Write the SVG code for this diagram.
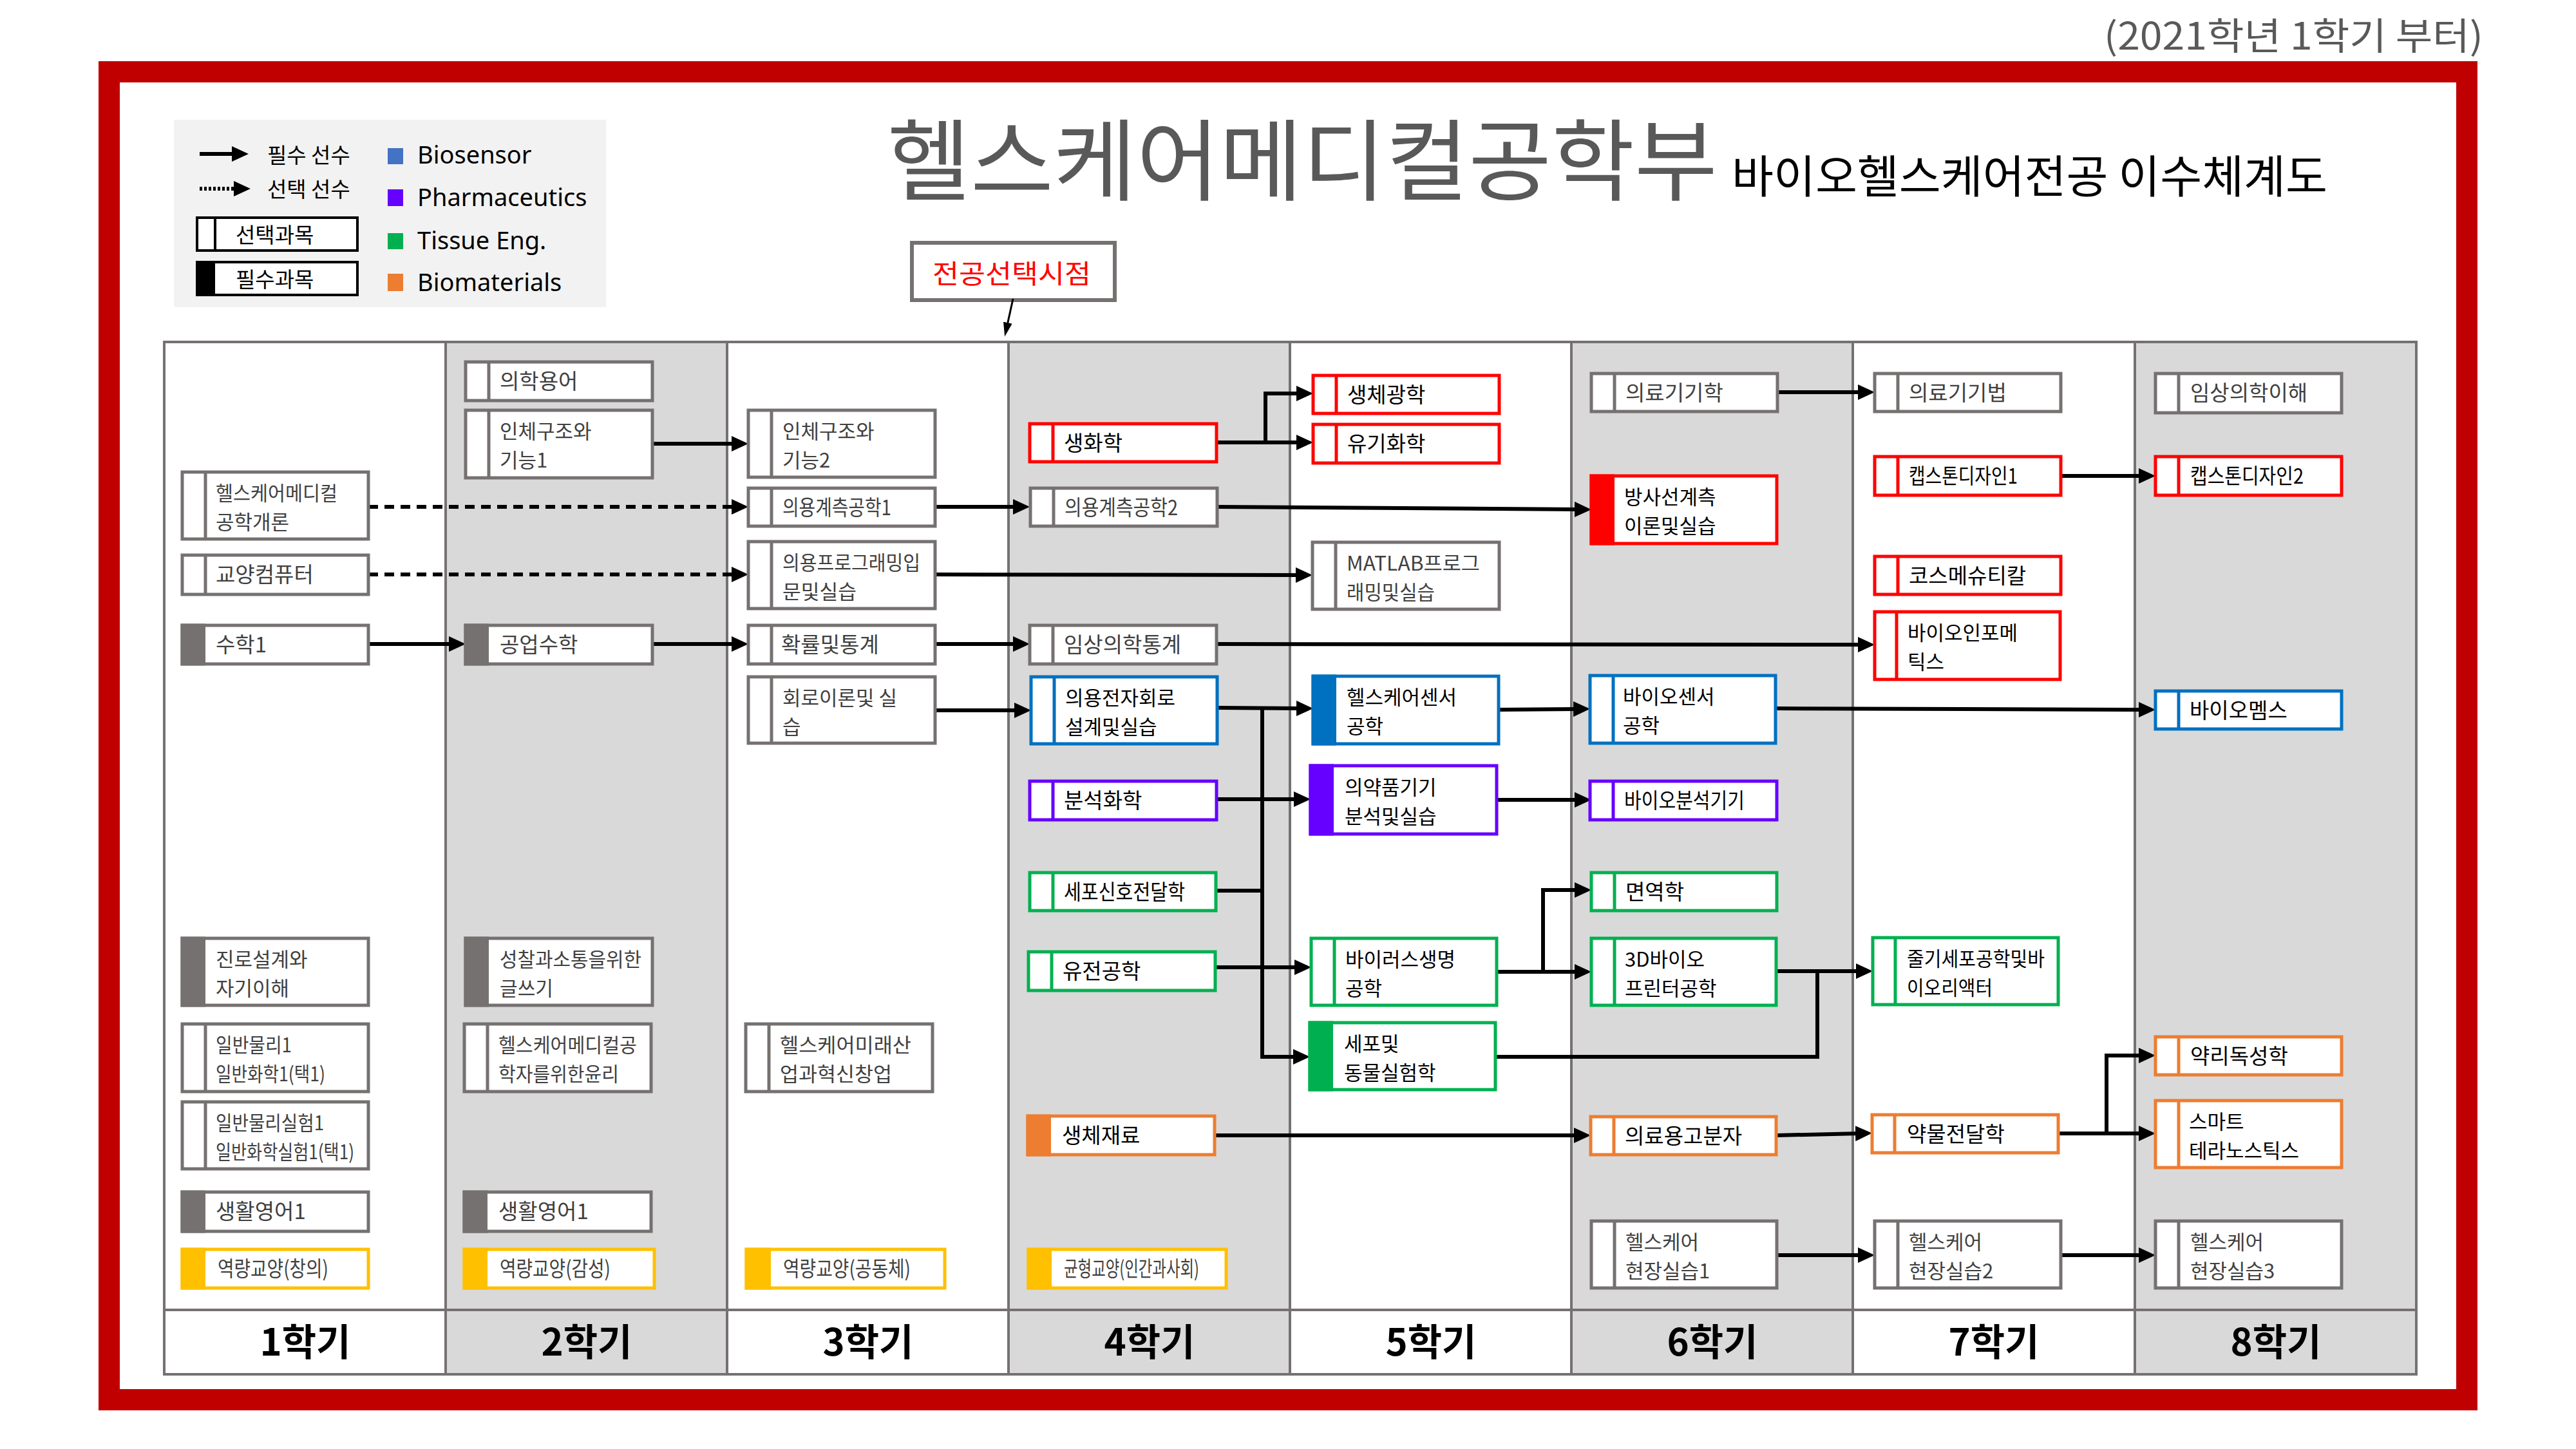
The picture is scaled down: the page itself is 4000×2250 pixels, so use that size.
<svg xmlns="http://www.w3.org/2000/svg" width="4000" height="2250" viewBox="0 0 4000 2250">
<defs>
<marker id="ah" markerUnits="userSpaceOnUse" viewBox="0 0 26 24" markerWidth="26" markerHeight="24" refX="6" refY="12" orient="auto"><path d="M0,0 L26,12 L0,24 z" fill="#000"/></marker>
<marker id="ahs" markerUnits="userSpaceOnUse" viewBox="0 0 22 14" markerWidth="22" markerHeight="14" refX="4" refY="7" orient="auto"><path d="M0,0 L22,7 L0,14 z" fill="#000"/></marker>
<style>
.t{font-family:"Noto Sans CJK KR","Noto Sans",sans-serif;font-size:33px}
.t2{font-family:"Noto Sans CJK KR","Noto Sans",sans-serif;font-size:31px}
.d{fill:#404040}
.k{fill:#000}
.bx{fill:#fff;stroke-width:5}
.dv{stroke-width:5}
.sg{stroke:#767171}.fg{fill:#767171}
.sr{stroke:#FF0000}.fr{fill:#FF0000}
.sb{stroke:#0070C0}.fb{fill:#0070C0}
.sp{stroke:#6600FF}.fp{fill:#6600FF}
.sn{stroke:#00B050}.fn{fill:#00B050}
.so{stroke:#ED7D31}.fo{fill:#ED7D31}
.sy{stroke:#FFC000}.fy{fill:#FFC000}
.c{fill:none;stroke:#000;stroke-width:6;marker-end:url(#ah)}
.cn{fill:none;stroke:#000;stroke-width:6}
.dash{stroke-dasharray:15 10}
.grid{stroke:#767171;stroke-width:4;fill:none}
.sem{font-family:"Noto Sans CJK KR","Noto Sans",sans-serif;font-size:58px;font-weight:700;fill:#000;text-anchor:middle}
.lg{font-family:"Noto Sans CJK KR","Noto Sans",sans-serif;font-size:33px;fill:#000}
.le{font-family:"Noto Sans","Liberation Sans",sans-serif;font-size:38px;fill:#000}
</style>
</defs>
<rect x="0" y="0" width="4000" height="2250" fill="#fff"/>
<rect x="169.5" y="111.5" width="3661" height="2062" fill="#fff" stroke="#C00000" stroke-width="33"/>

<text x="3267" y="77" font-family="Noto Sans CJK KR, Noto Sans, sans-serif" font-size="58" fill="#595959" textLength="589" lengthAdjust="spacingAndGlyphs">(2021학년 1학기 부터)</text>

<g id="title">
<text x="1378" y="300" font-family="Noto Sans CJK KR, Noto Sans, sans-serif" font-size="138" fill="#595959" textLength="1289" lengthAdjust="spacingAndGlyphs">헬스케어메디컬공학부</text>
<text x="2689" y="300" font-family="Noto Sans CJK KR, Noto Sans, sans-serif" font-size="70" fill="#000" textLength="925" lengthAdjust="spacingAndGlyphs">바이오헬스케어전공 이수체계도</text>
</g>

<g id="legend">
<rect x="270" y="186" width="671" height="291" fill="#F2F2F2"/>
<path d="M310,239 H366" class="cn" marker-end="url(#ah)"/>
<text x="415" y="253" class="lg">필수 선수</text>
<path d="M310,293 H369" fill="none" stroke="#000" stroke-width="6" stroke-dasharray="4 3" marker-end="url(#ah)"/>
<text x="415" y="306" class="lg">선택 선수</text>
<rect x="306" y="338" width="249" height="51" fill="#fff" stroke="#000" stroke-width="4"/>
<line x1="334" y1="338" x2="334" y2="389" stroke="#000" stroke-width="4"/>
<text x="366" y="377" class="lg" font-size="31">선택과목</text>
<rect x="306" y="407" width="249" height="51" fill="#fff" stroke="#000" stroke-width="4"/>
<rect x="304" y="405" width="30" height="55" fill="#000"/>
<text x="366" y="446" class="lg" font-size="31">필수과목</text>
<rect x="602" y="230" width="24" height="25" fill="#4472C4"/>
<text x="648" y="254" class="le">Biosensor</text>
<rect x="602" y="294" width="24" height="26" fill="#6600FF"/>
<text x="648" y="320" class="le">Pharmaceutics</text>
<rect x="602" y="362" width="24" height="25" fill="#00B050"/>
<text x="648" y="387" class="le">Tissue Eng.</text>
<rect x="602" y="425" width="24" height="27" fill="#ED7D31"/>
<text x="648" y="452" class="le">Biomaterials</text>
</g>

<g id="major-select">
<rect x="1416" y="377" width="315" height="89" fill="#fff" stroke="#767171" stroke-width="6"/>
<text x="1448" y="440" font-family="Noto Sans CJK KR, Noto Sans, sans-serif" font-size="41" fill="#FF0000" textLength="246" lengthAdjust="spacingAndGlyphs">전공선택시점</text>
</g>

<g id="table">
<rect x="255" y="531" width="437" height="1603" fill="#fff"/>
<rect x="692" y="531" width="437" height="1603" fill="#D9D9D9"/>
<rect x="1129" y="531" width="437" height="1603" fill="#fff"/>
<rect x="1566" y="531" width="437" height="1603" fill="#D9D9D9"/>
<rect x="2003" y="531" width="437" height="1603" fill="#fff"/>
<rect x="2440" y="531" width="437" height="1603" fill="#D9D9D9"/>
<rect x="2877" y="531" width="438" height="1603" fill="#fff"/>
<rect x="3315" y="531" width="437" height="1603" fill="#D9D9D9"/>
<rect x="255" y="531" width="3497" height="1603" class="grid" stroke-width="5"/>
<path class="grid" d="M692,531 V2134 M1129,531 V2134 M1566,531 V2134 M2003,531 V2134 M2440,531 V2134 M2877,531 V2134 M3315,531 V2134 M255,2034 H3752"/>
<text x="474" y="2105" class="sem">1학기</text>
<text x="911" y="2105" class="sem">2학기</text>
<text x="1348" y="2105" class="sem">3학기</text>
<text x="1785" y="2105" class="sem">4학기</text>
<text x="2222" y="2105" class="sem">5학기</text>
<text x="2659" y="2105" class="sem">6학기</text>
<text x="3096" y="2105" class="sem">7학기</text>
<text x="3534" y="2105" class="sem">8학기</text>
</g>

<g id="connectors">
<path d="M1573,464 L1564,505" fill="none" stroke="#000" stroke-width="3" marker-end="url(#ahs)"/>
<path class="c dash" d="M572,787 H1142"/>
<path class="c dash" d="M572,892 H1142"/>
<path class="c" d="M572,1000 H703"/>
<path class="c" d="M1013,689 H1142"/>
<path class="c" d="M1013,1000 H1142"/>
<path class="c" d="M1452,787 H1579"/>
<path class="c" d="M1452,1000 H1579"/>
<path class="c" d="M1452,1103 H1581"/>
<path class="c" d="M1452,892 L2018,893"/>
<path class="c" d="M1889,687 H2019"/>
<path class="c" d="M1965,687 V611 H2019"/>
<path class="c" d="M1890,787 L2451,791"/>
<path class="c" d="M1889,1000 L2891,1001"/>
<path class="c" d="M1890,1099 L2019,1100"/>
<path class="c" d="M1960,1099 V1641 H2014"/>
<path class="c" d="M1889,1241 H2015"/>
<path class="cn" d="M1888,1383 H1960"/>
<path class="c" d="M1887,1502 H2016"/>
<path class="c" d="M2327,1102 L2449,1101"/>
<path class="c" d="M2324,1242 H2451"/>
<path class="c" d="M2323,1509 H2451"/>
<path class="c" d="M2396,1509 V1382 H2451"/>
<path class="cn" d="M2321,1641 H2822 V1508"/>
<path class="c" d="M2758,1508 H2888"/>
<path class="c" d="M1886,1763 H2450"/>
<path class="c" d="M2758,1763 L2887,1760"/>
<path class="c" d="M2759,1949 H2891"/>
<path class="c" d="M2760,609 H2891"/>
<path class="c" d="M3199,739 H3327"/>
<path class="c" d="M2757,1100 L3327,1102"/>
<path class="c" d="M3196,1760 H3327"/>
<path class="c" d="M3271,1760 V1639 H3327"/>
<path class="c" d="M3200,1949 H3327"/>
</g>

<!-- Semester 1 -->
<g id="n-hmeintro"><rect class="bx sg" x="283" y="733" width="289" height="104"/><line class="dv sg" x1="319" y1="733" x2="319" y2="837"/><text class="t2 d"><tspan x="335" y="777" textLength="189" lengthAdjust="spacingAndGlyphs">헬스케어메디컬</tspan><tspan x="335" y="822">공학개론</tspan></text></g>
<g id="n-computer"><rect class="bx sg" x="283" y="862" width="289" height="61"/><line class="dv sg" x1="319" y1="862" x2="319" y2="923"/><text class="t d" x="335" y="904">교양컴퓨터</text></g>
<g id="n-math1"><rect class="bx sg" x="283" y="971" width="289" height="60"/><rect class="fg" x="280.5" y="968.5" width="38.5" height="65"/><text class="t d" x="335" y="1013">수학1</text></g>
<g id="n-career"><rect class="bx sg" x="283" y="1457" width="289" height="104"/><rect class="fg" x="280.5" y="1454.5" width="38.5" height="109"/><text class="t2 d"><tspan x="335" y="1501">진로설계와</tspan><tspan x="335" y="1546">자기이해</tspan></text></g>
<g id="n-phys1"><rect class="bx sg" x="283" y="1590" width="289" height="105"/><line class="dv sg" x1="319" y1="1590" x2="319" y2="1695"/><text class="t2 d"><tspan x="335" y="1634" textLength="118" lengthAdjust="spacingAndGlyphs">일반물리1</tspan><tspan x="335" y="1679" textLength="170" lengthAdjust="spacingAndGlyphs">일반화학1(택1)</tspan></text></g>
<g id="n-physlab1"><rect class="bx sg" x="283" y="1711" width="289" height="104"/><line class="dv sg" x1="319" y1="1711" x2="319" y2="1815"/><text class="t2 d"><tspan x="335" y="1755" textLength="168" lengthAdjust="spacingAndGlyphs">일반물리실험1</tspan><tspan x="335" y="1800" textLength="215" lengthAdjust="spacingAndGlyphs">일반화학실험1(택1)</tspan></text></g>
<g id="n-eng1a"><rect class="bx sg" x="283" y="1851" width="289" height="61"/><rect class="fg" x="280.5" y="1848.5" width="38.5" height="66"/><text class="t d" x="335" y="1893">생활영어1</text></g>
<g id="n-cap-creative"><rect class="bx sy" x="283" y="1940" width="289" height="60"/><rect class="fy" x="280.5" y="1937.5" width="38.5" height="65"/><text class="t d" x="338" y="1982" textLength="172" lengthAdjust="spacingAndGlyphs">역량교양(창의)</text></g>

<!-- Semester 2 -->
<g id="n-medterm"><rect class="bx sg" x="723" y="562" width="290" height="60"/><line class="dv sg" x1="759" y1="562" x2="759" y2="622"/><text class="t d" x="776" y="604">의학용어</text></g>
<g id="n-anat1"><rect class="bx sg" x="723" y="637" width="290" height="105"/><line class="dv sg" x1="759" y1="637" x2="759" y2="742"/><text class="t2 d"><tspan x="776" y="681">인체구조와</tspan><tspan x="776" y="726">기능1</tspan></text></g>
<g id="n-engmath"><rect class="bx sg" x="723" y="971" width="290" height="60"/><rect class="fg" x="720.5" y="968.5" width="38.5" height="65"/><text class="t d" x="776" y="1013">공업수학</text></g>
<g id="n-writing"><rect class="bx sg" x="723" y="1457" width="290" height="104"/><rect class="fg" x="720.5" y="1454.5" width="38.5" height="109"/><text class="t2 d"><tspan x="776" y="1501" textLength="220" lengthAdjust="spacingAndGlyphs">성찰과소통을위한</tspan><tspan x="776" y="1546" textLength="83" lengthAdjust="spacingAndGlyphs">글쓰기</tspan></text></g>
<g id="n-ethics"><rect class="bx sg" x="721" y="1590" width="290" height="105"/><line class="dv sg" x1="757" y1="1590" x2="757" y2="1695"/><text class="t2 d"><tspan x="774" y="1634" textLength="215" lengthAdjust="spacingAndGlyphs">헬스케어메디컬공</tspan><tspan x="774" y="1679" textLength="187" lengthAdjust="spacingAndGlyphs">학자를위한윤리</tspan></text></g>
<g id="n-eng1b"><rect class="bx sg" x="721" y="1851" width="290" height="61"/><rect class="fg" x="718.5" y="1848.5" width="38.5" height="66"/><text class="t d" x="774" y="1893">생활영어1</text></g>
<g id="n-cap-emotion"><rect class="bx sy" x="721" y="1940" width="295" height="60"/><rect class="fy" x="718.5" y="1937.5" width="38.5" height="65"/><text class="t d" x="776" y="1982" textLength="172" lengthAdjust="spacingAndGlyphs">역량교양(감성)</text></g>

<!-- Semester 3 -->
<g id="n-anat2"><rect class="bx sg" x="1162" y="637" width="290" height="104"/><line class="dv sg" x1="1198" y1="637" x2="1198" y2="741"/><text class="t2 d"><tspan x="1215" y="681">인체구조와</tspan><tspan x="1215" y="726">기능2</tspan></text></g>
<g id="n-meas1"><rect class="bx sg" x="1162" y="758" width="290" height="59"/><line class="dv sg" x1="1198" y1="758" x2="1198" y2="817"/><text class="t d" x="1215" y="800" textLength="169" lengthAdjust="spacingAndGlyphs">의용계측공학1</text></g>
<g id="n-prog"><rect class="bx sg" x="1162" y="841" width="290" height="104"/><line class="dv sg" x1="1198" y1="841" x2="1198" y2="945"/><text class="t2 d"><tspan x="1215" y="885" textLength="214" lengthAdjust="spacingAndGlyphs">의용프로그래밍입</tspan><tspan x="1215" y="930" textLength="115" lengthAdjust="spacingAndGlyphs">문및실습</tspan></text></g>
<g id="n-prob"><rect class="bx sg" x="1162" y="971" width="290" height="60"/><line class="dv sg" x1="1198" y1="971" x2="1198" y2="1031"/><text class="t d" x="1213" y="1013">확률및통계</text></g>
<g id="n-circuit"><rect class="bx sg" x="1162" y="1051" width="290" height="103"/><line class="dv sg" x1="1198" y1="1051" x2="1198" y2="1154"/><text class="t2 d"><tspan x="1215" y="1095">회로이론및 실</tspan><tspan x="1215" y="1140">습</tspan></text></g>
<g id="n-startup"><rect class="bx sg" x="1158" y="1590" width="290" height="105"/><line class="dv sg" x1="1194" y1="1590" x2="1194" y2="1695"/><text class="t2 d"><tspan x="1211" y="1634" textLength="204" lengthAdjust="spacingAndGlyphs">헬스케어미래산</tspan><tspan x="1211" y="1679" textLength="174" lengthAdjust="spacingAndGlyphs">업과혁신창업</tspan></text></g>
<g id="n-cap-community"><rect class="bx sy" x="1159" y="1940" width="308" height="60"/><rect class="fy" x="1156.5" y="1937.5" width="40.5" height="65"/><text class="t d" x="1216" y="1982" textLength="198" lengthAdjust="spacingAndGlyphs">역량교양(공동체)</text></g>

<!-- Semester 4 -->
<g id="n-biochem"><rect class="bx sr" x="1599" y="658" width="290" height="59"/><line class="dv sr" x1="1635" y1="658" x2="1635" y2="717"/><text class="t k" x="1652" y="700">생화학</text></g>
<g id="n-meas2"><rect class="bx sg" x="1600" y="758" width="290" height="59"/><line class="dv sg" x1="1636" y1="758" x2="1636" y2="817"/><text class="t d" x="1653" y="800" textLength="176" lengthAdjust="spacingAndGlyphs">의용계측공학2</text></g>
<g id="n-clinstat"><rect class="bx sg" x="1599" y="971" width="290" height="60"/><line class="dv sg" x1="1635" y1="971" x2="1635" y2="1031"/><text class="t d" x="1652" y="1013">임상의학통계</text></g>
<g id="n-medcircuit"><rect class="bx sb" x="1601" y="1051" width="289" height="104"/><line class="dv sb" x1="1637" y1="1051" x2="1637" y2="1155"/><text class="t2 k"><tspan x="1654" y="1095">의용전자회로</tspan><tspan x="1654" y="1140">설계및실습</tspan></text></g>
<g id="n-analchem"><rect class="bx sp" x="1599" y="1213" width="290" height="60"/><line class="dv sp" x1="1635" y1="1213" x2="1635" y2="1273"/><text class="t k" x="1652" y="1255">분석화학</text></g>
<g id="n-cellsignal"><rect class="bx sn" x="1599" y="1355" width="289" height="59"/><line class="dv sn" x1="1635" y1="1355" x2="1635" y2="1414"/><text class="t k" x="1652" y="1397" textLength="188" lengthAdjust="spacingAndGlyphs">세포신호전달학</text></g>
<g id="n-genetic"><rect class="bx sn" x="1597" y="1478" width="290" height="60"/><line class="dv sn" x1="1633" y1="1478" x2="1633" y2="1538"/><text class="t k" x="1650" y="1520">유전공학</text></g>
<g id="n-biomat"><rect class="bx so" x="1596" y="1733" width="290" height="60"/><rect class="fo" x="1593.5" y="1730.5" width="38.5" height="65"/><text class="t k" x="1649" y="1775">생체재료</text></g>
<g id="n-balance"><rect class="bx sy" x="1597" y="1940" width="307" height="60"/><rect class="fy" x="1594.5" y="1937.5" width="38.5" height="65"/><text class="t d" x="1652" y="1982" textLength="210" lengthAdjust="spacingAndGlyphs">균형교양(인간과사회)</text></g>

<!-- Semester 5 -->
<g id="n-bioopt"><rect class="bx sr" x="2039" y="583" width="289" height="59"/><line class="dv sr" x1="2075" y1="583" x2="2075" y2="642"/><text class="t k" x="2092" y="625">생체광학</text></g>
<g id="n-orgchem"><rect class="bx sr" x="2039" y="659" width="289" height="60"/><line class="dv sr" x1="2075" y1="659" x2="2075" y2="719"/><text class="t k" x="2092" y="701">유기화학</text></g>
<g id="n-matlab"><rect class="bx sg" x="2038" y="842" width="290" height="104"/><line class="dv sg" x1="2074" y1="842" x2="2074" y2="946"/><text class="t2 d"><tspan x="2091" y="886" textLength="207" lengthAdjust="spacingAndGlyphs">MATLAB프로그</tspan><tspan x="2091" y="931" textLength="137" lengthAdjust="spacingAndGlyphs">래밍및실습</tspan></text></g>
<g id="n-hcsensor"><rect class="bx sb" x="2039" y="1050" width="288" height="105"/><rect class="fb" x="2036.5" y="1047.5" width="38.5" height="110"/><text class="t2 k"><tspan x="2091" y="1094">헬스케어센서</tspan><tspan x="2091" y="1139">공학</tspan></text></g>
<g id="n-pharmdev"><rect class="bx sp" x="2035" y="1189" width="289" height="106"/><rect class="fp" x="2032.5" y="1186.5" width="38.5" height="111"/><text class="t2 k"><tspan x="2088" y="1234">의약품기기</tspan><tspan x="2088" y="1279">분석및실습</tspan></text></g>
<g id="n-virus"><rect class="bx sn" x="2036" y="1457" width="288" height="104"/><line class="dv sn" x1="2072" y1="1457" x2="2072" y2="1561"/><text class="t2 k"><tspan x="2089" y="1501">바이러스생명</tspan><tspan x="2089" y="1546">공학</tspan></text></g>
<g id="n-celllab"><rect class="bx sn" x="2034" y="1588" width="288" height="104"/><rect class="fn" x="2031.5" y="1585.5" width="38.5" height="109"/><text class="t2 k"><tspan x="2087" y="1632">세포및</tspan><tspan x="2087" y="1677">동물실험학</tspan></text></g>

<!-- Semester 6 -->
<g id="n-devsci"><rect class="bx sg" x="2471" y="580" width="289" height="59"/><line class="dv sg" x1="2507" y1="580" x2="2507" y2="639"/><text class="t d" x="2524" y="622">의료기기학</text></g>
<g id="n-radiation"><rect class="bx sr" x="2471" y="739" width="288" height="105"/><rect class="fr" x="2468.5" y="736.5" width="38.5" height="110"/><text class="t2 k"><tspan x="2522" y="783">방사선계측</tspan><tspan x="2522" y="828">이론및실습</tspan></text></g>
<g id="n-biosensor"><rect class="bx sb" x="2469" y="1049" width="288" height="105"/><line class="dv sb" x1="2505" y1="1049" x2="2505" y2="1154"/><text class="t2 k"><tspan x="2520" y="1093">바이오센서</tspan><tspan x="2520" y="1138">공학</tspan></text></g>
<g id="n-bioanal"><rect class="bx sp" x="2469" y="1213" width="290" height="60"/><line class="dv sp" x1="2505" y1="1213" x2="2505" y2="1273"/><text class="t k" x="2522" y="1255" textLength="187" lengthAdjust="spacingAndGlyphs">바이오분석기기</text></g>
<g id="n-immuno"><rect class="bx sn" x="2471" y="1355" width="288" height="59"/><line class="dv sn" x1="2507" y1="1355" x2="2507" y2="1414"/><text class="t k" x="2524" y="1397">면역학</text></g>
<g id="n-3dprint"><rect class="bx sn" x="2471" y="1457" width="287" height="104"/><line class="dv sn" x1="2507" y1="1457" x2="2507" y2="1561"/><text class="t2 k"><tspan x="2523" y="1501">3D바이오</tspan><tspan x="2523" y="1546">프린터공학</tspan></text></g>
<g id="n-polymer"><rect class="bx so" x="2470" y="1734" width="288" height="59"/><line class="dv so" x1="2506" y1="1734" x2="2506" y2="1793"/><text class="t k" x="2523" y="1776">의료용고분자</text></g>
<g id="n-field1"><rect class="bx sg" x="2471" y="1896" width="288" height="104"/><line class="dv sg" x1="2507" y1="1896" x2="2507" y2="2000"/><text class="t2 d"><tspan x="2524" y="1940">헬스케어</tspan><tspan x="2524" y="1985">현장실습1</tspan></text></g>

<!-- Semester 7 -->
<g id="n-devlaw"><rect class="bx sg" x="2911" y="580" width="289" height="59"/><line class="dv sg" x1="2947" y1="580" x2="2947" y2="639"/><text class="t d" x="2964" y="622">의료기기법</text></g>
<g id="n-cap1"><rect class="bx sr" x="2911" y="709" width="289" height="60"/><line class="dv sr" x1="2947" y1="709" x2="2947" y2="769"/><text class="t k" x="2964" y="751" textLength="169" lengthAdjust="spacingAndGlyphs">캡스톤디자인1</text></g>
<g id="n-cosmetic"><rect class="bx sr" x="2911" y="864" width="289" height="59"/><line class="dv sr" x1="2947" y1="864" x2="2947" y2="923"/><text class="t k" x="2964" y="906">코스메슈티칼</text></g>
<g id="n-bioinfo"><rect class="bx sr" x="2911" y="950" width="288" height="105"/><line class="dv sr" x1="2945" y1="950" x2="2945" y2="1055"/><text class="t2 k"><tspan x="2962" y="994">바이오인포메</tspan><tspan x="2962" y="1039">틱스</tspan></text></g>
<g id="n-stemcell"><rect class="bx sn" x="2908" y="1456" width="288" height="104"/><line class="dv sn" x1="2943" y1="1456" x2="2943" y2="1560"/><text class="t2 k"><tspan x="2961" y="1500" textLength="214" lengthAdjust="spacingAndGlyphs">줄기세포공학및바</tspan><tspan x="2961" y="1545" textLength="133" lengthAdjust="spacingAndGlyphs">이오리액터</tspan></text></g>
<g id="n-drugdel"><rect class="bx so" x="2907" y="1731" width="289" height="59"/><line class="dv so" x1="2942" y1="1731" x2="2942" y2="1790"/><text class="t k" x="2961" y="1773">약물전달학</text></g>
<g id="n-field2"><rect class="bx sg" x="2911" y="1896" width="289" height="104"/><line class="dv sg" x1="2947" y1="1896" x2="2947" y2="2000"/><text class="t2 d"><tspan x="2964" y="1940">헬스케어</tspan><tspan x="2964" y="1985">현장실습2</tspan></text></g>

<!-- Semester 8 -->
<g id="n-clinmed"><rect class="bx sg" x="3347" y="580" width="289" height="61"/><line class="dv sg" x1="3383" y1="580" x2="3383" y2="641"/><text class="t d" x="3401" y="622">임상의학이해</text></g>
<g id="n-cap2"><rect class="bx sr" x="3347" y="709" width="289" height="60"/><line class="dv sr" x1="3383" y1="709" x2="3383" y2="769"/><text class="t k" x="3401" y="751" textLength="176" lengthAdjust="spacingAndGlyphs">캡스톤디자인2</text></g>
<g id="n-biomems"><rect class="bx sb" x="3347" y="1073" width="289" height="59"/><line class="dv sb" x1="3383" y1="1073" x2="3383" y2="1132"/><text class="t k" x="3400" y="1115">바이오멤스</text></g>
<g id="n-pharmtox"><rect class="bx so" x="3347" y="1610" width="289" height="59"/><line class="dv so" x1="3383" y1="1610" x2="3383" y2="1669"/><text class="t k" x="3401" y="1652">약리독성학</text></g>
<g id="n-theranostics"><rect class="bx so" x="3347" y="1709" width="289" height="104"/><line class="dv so" x1="3383" y1="1709" x2="3383" y2="1813"/><text class="t2 k"><tspan x="3399" y="1753">스마트</tspan><tspan x="3399" y="1798">테라노스틱스</tspan></text></g>
<g id="n-field3"><rect class="bx sg" x="3347" y="1896" width="289" height="104"/><line class="dv sg" x1="3383" y1="1896" x2="3383" y2="2000"/><text class="t2 d"><tspan x="3401" y="1940">헬스케어</tspan><tspan x="3401" y="1985">현장실습3</tspan></text></g>
</svg>
